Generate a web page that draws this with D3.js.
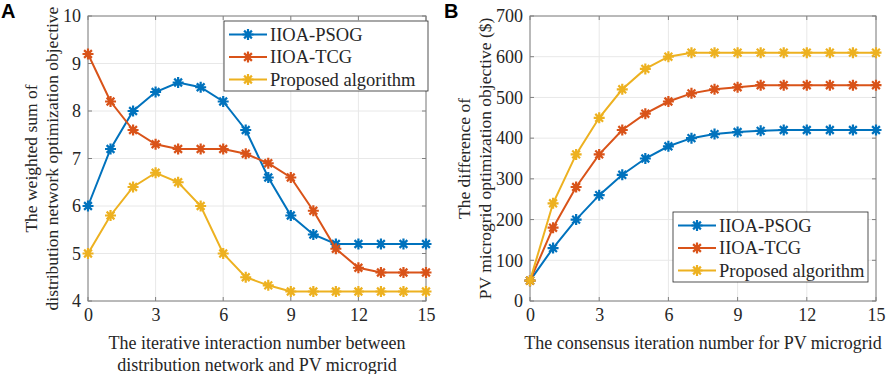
<!DOCTYPE html>
<html>
<head>
<meta charset="utf-8">
<script src="https://cdn.jsdelivr.net/npm/d3@7"></script>
<style>
  body { margin: 0; background: #fff; }
  svg text { font-family: "Liberation Serif", "Times New Roman", serif; fill: #262626; }
  svg .tick text { font-family: "Liberation Serif", serif; font-size: 18px; fill: #262626; }
  .panel-tag { font-family: "Liberation Sans", Arial, sans-serif !important; font-weight: bold; fill: #000 !important; }
</style>
</head>
<body>
<div id="chart"></div>
<script>

// iteration numbers (x) shared by both panels
const iterations = d3.range(0, 16);
const seriesNames = ["IIOA-PSOG", "IIOA-TCG", "Proposed algorithm"];
const seriesColors = ["#0072BD", "#D95319", "#EDB120"];

// panel A: weighted sum of distribution network optimization objective
const psogA = [6.0, 7.2, 8.0, 8.4, 8.6, 8.5, 8.2, 7.6, 6.6, 5.8, 5.4, 5.2, 5.2, 5.2, 5.2, 5.2];
const tcgA = [9.2, 8.2, 7.6, 7.3, 7.2, 7.2, 7.2, 7.1, 6.9, 6.6, 5.9, 5.1, 4.7, 4.6, 4.6, 4.6];
const proposedA = [5.0, 5.8, 6.4, 6.7, 6.5, 6.0, 5.0, 4.5, 4.33, 4.2, 4.2, 4.2, 4.2, 4.2, 4.2, 4.2];
const yTicksA = [4, 5, 6, 7, 8, 9, 10];

// panel B: difference of PV microgrid optimization objective ($)
const psogB = [50, 130, 200, 260, 310, 350, 380, 400, 410, 415, 418, 420, 420, 420, 420, 420];
const tcgB = [50, 180, 280, 360, 420, 460, 490, 510, 520, 525, 530, 530, 530, 530, 530, 530];
const proposedB = [50, 240, 360, 450, 520, 570, 600, 610, 610, 610, 610, 610, 610, 610, 610, 610];
const yTicksB = [0, 100, 200, 300, 400, 500, 600, 700];

const xTicks = [0, 3, 6, 9, 12, 15];

const svg = d3.select("#chart").append("svg")
    .attr("width", 886)
    .attr("height", 374);

// 8-arm asterisk like the matlab '*' marker
function asterisk(r) {
    let d = "";
    for (let k = 0; k < 4; k++) {
        let a = k * Math.PI / 4;
        let dx = r * Math.cos(a), dy = r * Math.sin(a);
        d += "M" + (-dx) + "," + (-dy) + "L" + dx + "," + dy;
    }
    return d;
}

function drawPanel(opt) {
    let g = svg.append("g")
        .attr("transform", "translate(" + opt.left + "," + opt.top + ")");

    let x = d3.scaleLinear().domain([0, 15]).range([0, opt.width]);
    let y = d3.scaleLinear().domain(opt.yDomain).range([opt.height, 0]);

    // grid
    g.append("g").selectAll("line")
        .data(xTicks).enter().append("line")
        .attr("x1", d => x(d)).attr("x2", d => x(d))
        .attr("y1", 0).attr("y2", opt.height)
        .attr("stroke", "#e8e8e8").attr("stroke-width", 1);
    g.append("g").selectAll("line")
        .data(opt.yTicks).enter().append("line")
        .attr("x1", 0).attr("x2", opt.width)
        .attr("y1", d => y(d)).attr("y2", d => y(d))
        .attr("stroke", "#e8e8e8").attr("stroke-width", 1);

    // axes
    let xAxis = d3.axisBottom(x).tickValues(xTicks).tickFormat(d3.format("d")).tickSize(0).tickPadding(7);
    let yAxis = d3.axisLeft(y).tickValues(opt.yTicks).tickFormat(d3.format("d")).tickSize(0).tickPadding(7);

    let xg = g.append("g").attr("transform", "translate(0," + opt.height + ")").call(xAxis);
    let yg = g.append("g").call(yAxis);
    [xg, yg].forEach(a => {
        a.select(".domain").remove();
        a.attr("font-family", "Liberation Serif").attr("font-size", 18);
    });

    // inner ticks on all four sides
    let tk = 4;
    let tickG = g.append("g").attr("stroke", "#808080").attr("stroke-width", 1);
    xTicks.forEach(t => {
        tickG.append("line").attr("x1", x(t)).attr("x2", x(t)).attr("y1", opt.height).attr("y2", opt.height - tk);
        tickG.append("line").attr("x1", x(t)).attr("x2", x(t)).attr("y1", 0).attr("y2", tk);
    });
    opt.yTicks.forEach(t => {
        tickG.append("line").attr("x1", 0).attr("x2", tk).attr("y1", y(t)).attr("y2", y(t));
        tickG.append("line").attr("x1", opt.width).attr("x2", opt.width - tk).attr("y1", y(t)).attr("y2", y(t));
    });

    // box
    g.append("rect")
        .attr("width", opt.width).attr("height", opt.height)
        .attr("fill", "none").attr("stroke", "#808080").attr("stroke-width", 1);

    // lines + markers
    let line = d3.line().x((d, i) => x(iterations[i])).y(d => y(d));
    opt.series.forEach((s, i) => {
        g.append("path")
            .datum(s)
            .attr("d", line)
            .attr("fill", "none")
            .attr("stroke", seriesColors[i])
            .attr("stroke-width", 2);
        g.append("g").selectAll("path")
            .data(s).enter().append("path")
            .attr("d", asterisk(5.5))
            .attr("transform", (d, j) => "translate(" + x(iterations[j]) + "," + y(d) + ")")
            .attr("stroke", seriesColors[i])
            .attr("stroke-width", 2.2)
            .attr("fill", "none");
    });

    // legend
    let lg = g.append("g").attr("transform", "translate(" + opt.legend.x + "," + opt.legend.y + ")");
    lg.append("rect")
        .attr("width", opt.legend.w).attr("height", opt.legend.h)
        .attr("fill", "#fff").attr("stroke", "#262626").attr("stroke-width", 0.8);
    seriesNames.forEach((name, i) => {
        let cy = 13.5 + i * 22.5;
        lg.append("line")
            .attr("x1", 5).attr("x2", 43).attr("y1", cy).attr("y2", cy)
            .attr("stroke", seriesColors[i]).attr("stroke-width", 2);
        lg.append("path")
            .attr("d", asterisk(5.5))
            .attr("transform", "translate(24," + cy + ")")
            .attr("stroke", seriesColors[i]).attr("stroke-width", 2.2);
        lg.append("text")
            .attr("x", 46).attr("y", cy)
            .attr("dy", "0.35em")
            .style("font-size", "18.5px")
            .text(name);
    });

    // axis titles
    opt.xLabel.forEach((t, i) => {
        g.append("text")
            .attr("x", opt.width / 2)
            .attr("y", opt.height + 48 + i * 22)
            .attr("text-anchor", "middle")
            .style("font-size", "18px")
            .text(t);
    });
    opt.yLabel.forEach((t, i) => {
        g.append("text")
            .attr("transform", "translate(" + (opt.yLabelX + i * 21) + "," + (opt.height / 2) + ") rotate(-90)")
            .attr("text-anchor", "middle")
            .attr("dy", "0.35em")
            .style("font-size", "17.5px")
            .text(t);
    });

    svg.append("text")
        .attr("class", "panel-tag")
        .attr("x", opt.tag.x).attr("y", opt.tag.y)
        .style("font-size", "20px")
        .text(opt.tag.text);
}

drawPanel({
    left: 88, top: 16, width: 338, height: 285,
    yDomain: [4, 10], yTicks: yTicksA,
    series: [psogA, tcgA, proposedA],
    legend: {x: 136, y: 5, w: 204, h: 70},
    xLabel: ["The iterative interaction number between", "distribution network and PV microgrid"],
    yLabel: ["The weighted sum of", "distribution network optimization objective"],
    yLabelX: -57,
    tag: {x: 1, y: 18, text: "A"}
});

drawPanel({
    left: 530, top: 16, width: 346, height: 285,
    yDomain: [0, 700], yTicks: yTicksB,
    series: [psogB, tcgB, proposedB],
    legend: {x: 143, y: 196, w: 195, h: 70},
    xLabel: ["The consensus iteration number for PV microgrid"],
    yLabel: ["The difference of", "PV microgrid optimization objective ($)"],
    yLabelX: -66,
    tag: {x: 444, y: 18, text: "B"}
});

</script>
</body>
</html>
